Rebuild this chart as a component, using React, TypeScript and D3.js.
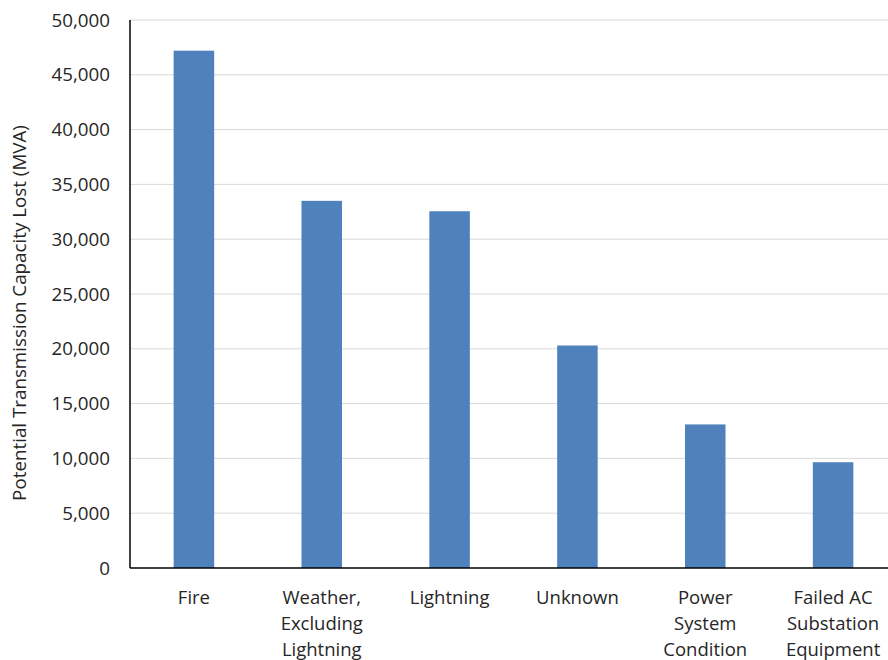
import React from "react";
import * as d3 from "d3";

const categories: string[][] = [
  ["Fire"],
  ["Weather,", "Excluding", "Lightning"],
  ["Lightning"],
  ["Unknown"],
  ["Power", "System", "Condition"],
  ["Failed AC", "Substation", "Equipment"],
];
const values: number[] = [47200, 33500, 32550, 20300, 13100, 9650];
const yTicks: number[] = [0, 5000, 10000, 15000, 20000, 25000, 30000, 35000, 40000, 45000, 50000];
const yTitle = "Potential Transmission Capacity Lost (MVA)";

const W = 888;
const H = 660;
const left = 130;
const right = 888;
const bandRight = 897;
const top = 20;
const bottom = 568;
const FONT = "'Open Sans', 'Liberation Sans', sans-serif";

export default function App() {
  const x = d3
    .scaleBand<number>()
    .domain(values.map((_, i) => i))
    .range([left, bandRight])
    .paddingInner(0.683)
    .paddingOuter(0.3415);
  const y = d3.scaleLinear().domain([0, 50000]).range([bottom, top]);
  const fmt = d3.format(",");

  return (
    <svg
      width={W}
      height={H}
      style={{ position: "absolute", left: 0, top: 0, background: "#fff" }}
      fontFamily={FONT}
    >
      <rect x={0} y={0} width={W} height={H} fill="#fff" />
      {yTicks.map((t) =>
        t === 0 ? null : (
          <line key={"g" + t} x1={left} x2={right} y1={y(t)} y2={y(t)} stroke="#d9d9d9" strokeWidth={1} />
        )
      )}
      {values.map((v, i) => (
        <rect
          key={"b" + i}
          x={x(i)}
          y={y(v)}
          width={x.bandwidth()}
          height={y(0) - y(v)}
          fill="#4f81bd"
        />
      ))}
      <line x1={left} x2={left} y1={top} y2={bottom} stroke="#000" strokeWidth={1.5} />
      <line x1={left} x2={right} y1={bottom} y2={bottom} stroke="#000" strokeWidth={1.5} />
      {yTicks.map((t) => (
        <text
          key={"t" + t}
          x={110}
          y={y(t)}
          dy="0.35em"
          textAnchor="end"
          fontSize={18.8}
          fill="#262626"
        >
          {fmt(t)}
        </text>
      ))}
      {categories.map((lines, i) => (
        <text
          key={"c" + i}
          x={(x(i) as number) + x.bandwidth() / 2}
          textAnchor="middle"
          fontSize={18.5}
          fill="#262626"
        >
          {lines.map((l, j) => (
            <tspan key={j} x={(x(i) as number) + x.bandwidth() / 2} y={604 + j * 26}>
              {l}
            </tspan>
          ))}
        </text>
      ))}
      <text
        transform={`translate(26, ${(123 + 503) / 2}) rotate(-90)`}
        textAnchor="middle"
        fontSize={18.8}
        fill="#262626"
      >
        {yTitle}
      </text>
    </svg>
  );
}
